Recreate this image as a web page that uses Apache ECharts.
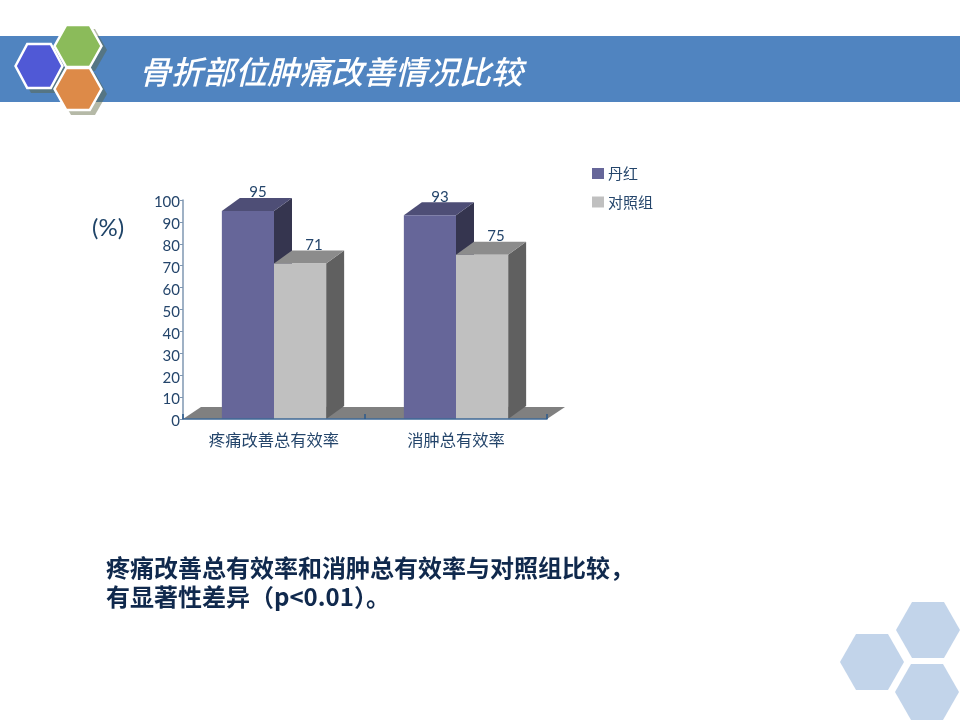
<!DOCTYPE html>
<html><head><meta charset="utf-8">
<style>html,body{margin:0;padding:0;background:#fff}#c{width:960px;height:720px}</style>
<script src="https://cdn.jsdelivr.net/npm/echarts@6/dist/echarts.min.js"></script>
</head><body><div id="c"></div>
<script>
const categories = ['疼痛改善总有效率', '消肿总有效率'];
const danhong = [95, 93];
const control = [71, 75];
const seriesNames = ['丹红', '对照组'];
const titleText = '骨折部位肿痛改善情况比较';
const noteLines = ['疼痛改善总有效率和消肿总有效率与对照组比较，', '有显著性差异（p<0.01）。'];
const unitText = '(%)';

const FONT = '"Lato","Noto Sans CJK SC",sans-serif';
const CJK = '"Noto Sans CJK SC",sans-serif';
const INK = '#24456B';
const DEPTH_X = 18, DEPTH_Y = 13, BAR_RATIO = 0.2865;

function bar3d(side, front, top, flank, labelShift) {
  return function (params, api) {
    const idx = api.value(0), val = api.value(1);
    const pTop = api.coord([idx, val]), pBase = api.coord([idx, 0]);
    const w = api.size([1, 0])[0] * BAR_RATIO;
    const x0 = pTop[0] + (side === 0 ? -w : 0), x1 = x0 + w;
    const yT = pTop[1], yB = pBase[1];
    return { type: 'group', children: [
      { type: 'polygon', shape: { points: [[x1, yT], [x1 + DEPTH_X, yT - DEPTH_Y], [x1 + DEPTH_X, yB - DEPTH_Y], [x1, yB]] }, style: { fill: flank } },
      { type: 'polygon', shape: { points: [[x0, yT], [x0 + DEPTH_X, yT - DEPTH_Y], [x1 + DEPTH_X, yT - DEPTH_Y], [x1, yT]] }, style: { fill: top } },
      { type: 'rect', shape: { x: x0, y: yT, width: w, height: yB - yT }, style: { fill: front } },
      { type: 'text', style: { x: (x0 + x1) / 2 + labelShift, y: yT - DEPTH_Y - 5.5, text: String(val), fill: INK, font: '15px ' + FONT, align: 'center', verticalAlign: 'middle' } }
    ] };
  };
}
function floor(params) {
  const c = params.coordSys, b = c.y + c.height;
  return { type: 'group', children: [
    { type: 'polygon', shape: { points: [[c.x, b], [c.x + DEPTH_X, b - DEPTH_Y + 1], [c.x + c.width + DEPTH_X, b - DEPTH_Y + 1], [c.x + c.width, b]] }, style: { fill: '#808080' } }
  ] };
}
function hex(cx, cy, rx, ry, fill, stroke) {
  const q = rx / 2;
  return { type: 'polygon', shape: { points: [[cx - rx, cy], [cx - q, cy - ry], [cx + q, cy - ry], [cx + rx, cy], [cx + q, cy + ry], [cx - q, cy + ry]] },
    style: stroke ? { fill, stroke, lineWidth: 2.5 } : { fill } };
}
const SHADOW = 'rgba(90,100,60,0.45)';
const decor = [
  { type: 'rect', shape: { x: 0, y: 36, width: 960, height: 66 }, style: { fill: '#5084C0' } },
  hex(83, 50, 24, 21, SHADOW), hex(83, 94, 24, 21, SHADOW), hex(43, 71, 24, 22, SHADOW),
  hex(78, 46, 23.5, 21, '#8BBB5A', '#fff'), hex(78, 89, 23.5, 21, '#DD8A48', '#fff'), hex(39, 66, 23.5, 22, '#5059D6', '#fff'),
  { type: 'text', style: { x: 139, y: 72, text: titleText, fill: '#fff', font: 'italic 500 32px ' + CJK, verticalAlign: 'middle' } },
  { type: 'text', style: { x: 92, y: 228, text: unitText, fill: '#1F4468', font: '24px ' + FONT, verticalAlign: 'middle' } },
  { type: 'text', style: { x: 106, y: 568, text: noteLines[0], fill: '#10294D', font: 'bold 24px ' + CJK, verticalAlign: 'middle' } },
  { type: 'text', style: { x: 106, y: 597, text: noteLines[1], fill: '#10294D', font: 'bold 24px ' + CJK, verticalAlign: 'middle' } },
  hex(928, 630, 32, 28, '#C2D4EA'), hex(872, 662, 32, 28, '#C2D4EA'), hex(927, 692, 32, 28, '#C2D4EA')
];
const chart = echarts.init(document.getElementById('c'), null, { renderer: 'canvas' });
chart.setOption({
  animation: false,
  backgroundColor: '#fff',
  grid: { left: 183, top: 200, width: 364, height: 219, containLabel: false },
  legend: { orient: 'vertical', left: 587, top: 161, itemWidth: 12, itemHeight: 11, itemGap: 13.5, icon: 'rect',
    data: seriesNames, selectedMode: false, textStyle: { color: INK, fontSize: 15, fontFamily: CJK, padding: [0, 0, 0, -1] } },
  xAxis: { type: 'category', data: categories, z: 10, axisLine: { lineStyle: { color: '#3F6A96', width: 1.5 } },
    axisTick: { show: true, interval: 0, alignWithLabel: false, inside: true, length: 5, lineStyle: { color: '#2B5A8C', width: 1.5 } },
    axisLabel: { color: INK, fontSize: 16.3, fontFamily: CJK, margin: 13 } },
  yAxis: { type: 'value', min: 0, max: 100, interval: 10, splitLine: { show: false },
    axisLine: { show: true, lineStyle: { color: '#7F97B2', width: 1.5 } },
    axisTick: { show: true, length: 3, lineStyle: { color: '#7F97B2' } },
    axisLabel: { margin: 3, formatter: '{v|{value}}', rich: { v: { color: INK, fontSize: 15, fontFamily: FONT, padding: [5, 0, 0, 0] } } } },
  graphic: { elements: decor },
  series: [
    { type: 'custom', name: '_floor', coordinateSystem: 'cartesian2d', data: [[0, 0]], renderItem: floor, silent: true, z: 1 },
    { type: 'custom', name: seriesNames[0], coordinateSystem: 'cartesian2d', z: 3, itemStyle: { color: '#666699' },
      encode: { x: 0, y: 1 }, data: danhong.map((v, i) => [i, v]), renderItem: bar3d(0, '#666699', '#4E4E76', '#35354F', 10) },
    { type: 'custom', name: seriesNames[1], coordinateSystem: 'cartesian2d', z: 4, itemStyle: { color: '#C0C0C0' },
      encode: { x: 0, y: 1 }, data: control.map((v, i) => [i, v]), renderItem: bar3d(1, '#C0C0C0', '#8C8C8C', '#606060', 14) }
  ]
});
</script></body></html>
